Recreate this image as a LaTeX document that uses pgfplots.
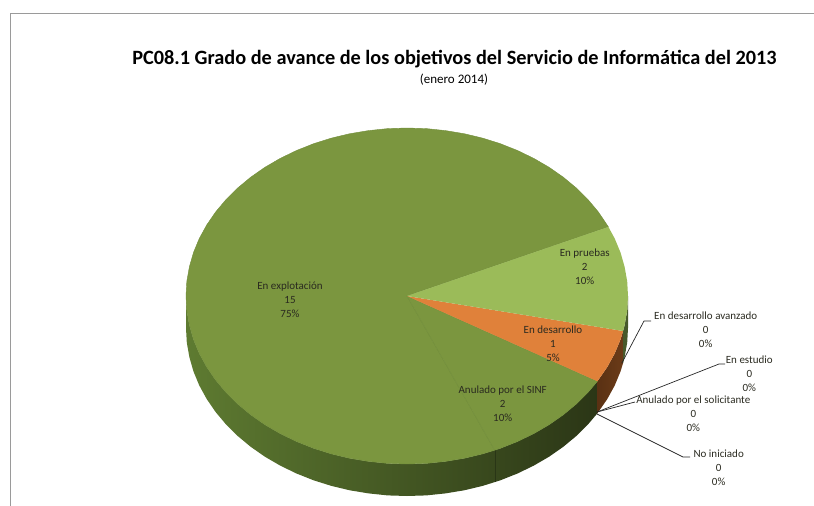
\documentclass[border=0pt]{standalone}
\usepackage{fontspec}
\setmainfont{Carlito}
\usepackage{pgfplots}
\pgfplotsset{compat=1.18}
\definecolor{topgreen}{HTML}{7B963F}
\definecolor{topedge}{HTML}{728E3B}
\definecolor{toplight}{HTML}{9BBB59}
\definecolor{toporange}{HTML}{E0813A}
\definecolor{sideL}{HTML}{5E7B31}
\definecolor{sideM}{HTML}{3B4D1F}
\definecolor{sideR}{HTML}{2B3616}
\definecolor{sideOa}{HTML}{5A3113}
\definecolor{sideOb}{HTML}{6B3B18}
\definecolor{sideG}{HTML}{47592A}
\definecolor{frame}{HTML}{9A9A9A}
\definecolor{txt}{HTML}{2A2A20}
\tikzset{lab/.style={font=\fontsize{11}{13.8}\selectfont, text=txt, align=center, inner sep=0pt}}
\begin{document}
\begin{tikzpicture}
\begin{axis}[
    width=814pt, height=506pt, scale only axis,
    xmin=0, xmax=814, ymin=0, ymax=506,
    y dir=reverse,
    axis line style={draw=none},
    ticks=none,
    no markers,
    every axis plot/.append style={line join=round},
]
% frame of the sheet
\addplot[frame, line width=1pt] coordinates {(10,506) (10,13) (814,13)};

% side wall: "En explotacion" + "Anulado por el SINF"
\addplot[draw=none, left color=sideL, middle color=sideM, right color=sideR] coordinates {
 (186,296) (186.8,310.6) (189.4,325.2) (193.5,339.5) (199.3,353.5) (206.7,367) (215.6,380) (226,392.4)
 (237.7,404) (250.7,414.8) (264.9,424.7) (280.2,433.6) (296.5,441.5) (313.6,448.3) (331.4,453.9)
 (349.8,458.3) (368.6,461.4) (387.7,463.4) (407,464) (426.3,463.4) (445.4,461.4) (464.2,458.3)
 (482.6,453.9) (500.4,448.3) (517.5,441.5) (533.8,433.6) (549.1,424.7) (563.3,414.8) (576.3,404)
 (588,392.4) (597.4,381.3)
 (597.4,413.3) (588,424.4) (576.3,436) (563.3,446.8) (549.1,456.7) (533.8,465.6) (517.5,473.5)
 (500.4,480.3) (482.6,485.9) (464.2,490.3) (445.4,493.4) (426.3,495.4) (407,496) (387.7,495.4)
 (368.6,493.4) (349.8,490.3) (331.4,485.9) (313.6,480.3) (296.5,473.5) (280.2,465.6) (264.9,456.7)
 (250.7,446.8) (237.7,436) (226,424.4) (215.6,412) (206.7,399) (199.3,385.5) (193.5,371.5)
 (189.4,357.2) (186.8,342.6) (186,328)
} --cycle;
% seam between the two green slices on the wall
\addplot[sideM!70!black, line width=0.4pt] coordinates {(494.7,450.2) (494.7,482.2)};
% side wall: "En desarrollo"
\addplot[draw=none, left color=sideOa, right color=sideOb] coordinates {
 (597.4,381.3) (607.3,367) (614.7,353.5) (620.5,339.5) (623.1,331)
 (623.1,363) (620.5,371.5) (614.7,385.5) (607.3,399) (597.4,413.3)
} --cycle;
% side wall: "En pruebas"
\addplot[draw=none, fill=sideG] coordinates {
 (623.1,331) (624.6,325.2) (627.2,310.6) (628,296)
 (628,328) (627.2,342.6) (624.6,357.2) (623.1,363)
} --cycle;

% top: En explotacion (15)
\addplot[draw=topedge, line width=0.4pt, fill=topgreen] coordinates {
 (407,296) (608.4,226.9) (598.4,212) (588,199.6) (576.3,188) (563.3,177.2) (549.1,167.3) (533.8,158.4)
 (517.5,150.5) (500.4,143.7) (482.6,138.1) (464.2,133.7) (445.4,130.6) (426.3,128.6) (407,128)
 (387.7,128.6) (368.6,130.6) (349.8,133.7) (331.4,138.1) (313.6,143.7) (296.5,150.5) (280.2,158.4)
 (264.9,167.3) (250.7,177.2) (237.7,188) (226,199.6) (215.6,212) (206.7,225) (199.3,238.5)
 (193.5,252.5) (189.4,266.8) (186.8,281.4) (186,296) (186.8,310.6) (189.4,325.2) (193.5,339.5)
 (199.3,353.5) (206.7,367) (215.6,380) (226,392.4) (237.7,404) (250.7,414.8) (264.9,424.7)
 (280.2,433.6) (296.5,441.5) (313.6,448.3) (331.4,453.9) (349.8,458.3) (368.6,461.4) (387.7,463.4)
 (407,464) (426.3,463.4) (445.4,461.4) (464.2,458.3) (482.6,453.9) (494.7,450.2)
} --cycle;
% top: Anulado por el SINF (2)
\addplot[draw=topedge, line width=0.4pt, fill=topgreen] coordinates {
 (407,296) (494.7,450.2) (500.4,448.3) (517.5,441.5) (533.8,433.6) (549.1,424.7) (563.3,414.8)
 (576.3,404) (588,392.4) (597.4,381.3)
} --cycle;
% top: En desarrollo (1)
\addplot[draw=none, fill=toporange] coordinates {
 (407,296) (597.4,381.3) (607.3,367) (614.7,353.5) (620.5,339.5) (623.1,331)
} --cycle;
% top: En pruebas (2)
\addplot[draw=none, fill=toplight] coordinates {
 (407,296) (623.1,331) (624.6,325.2) (627.2,310.6) (628,296) (627.2,281.4) (624.6,266.8)
 (620.5,252.5) (614.7,238.5) (608.4,226.9)
} --cycle;

% leader lines of the empty categories
\addplot[black!85, line width=0.7pt] coordinates {(621.7,363.3) (644,321) (651,321)};
\addplot[black!85, line width=0.7pt] coordinates {(597,412) (719,364) (725,364)};
\addplot[black!85, line width=0.7pt] coordinates {(597,412) (635,402)};
\addplot[black!85, line width=0.7pt] coordinates {(597,414) (683,457) (690,457)};

% title
\node[inner sep=0pt, font=\bfseries\fontsize{20.3}{24}\selectfont, text=black] at (axis cs:454.5,59) {PC08.1 Grado de avance de los objetivos del Servicio de Informática del 2013};
\node[inner sep=0pt, font=\fontsize{13}{14}\selectfont, text=black] at (axis cs:454,80) {(enero 2014)};

% slice labels
\node[lab] at (axis cs:290,300) {En explotación\\15\\75\%};
\node[lab] at (axis cs:584.7,266.7) {En pruebas\\2\\10\%};
\node[lab] at (axis cs:553,343.5) {En desarrollo\\1\\5\%};
\node[lab] at (axis cs:502.7,404) {Anulado por el SINF\\2\\10\%};
\node[lab] at (axis cs:705.7,330) {En desarrollo avanzado\\0\\0\%};
\node[lab] at (axis cs:749.3,374) {En estudio\\0\\0\%};
\node[lab] at (axis cs:693.3,414) {Anulado por el solicitante\\0\\0\%};
\node[lab] at (axis cs:718.7,468) {No iniciado\\0\\0\%};
\end{axis}
\end{tikzpicture}
\end{document}
